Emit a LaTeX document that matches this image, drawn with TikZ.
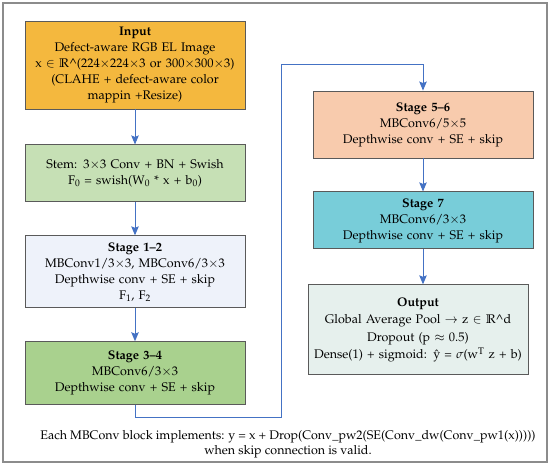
\documentclass[tikz,border=0pt]{standalone}
\usepackage[T1]{fontenc}
\usepackage{mathpazo}
\usepackage{tikz}
\usetikzlibrary{arrows,arrows.meta,positioning}

\definecolor{inputorange}{HTML}{F4B83E}
\definecolor{stemgreen}{HTML}{C6E0B5}
\definecolor{stagepale}{HTML}{EEF2FA}
\definecolor{stagegreen}{HTML}{A9D18E}
\definecolor{stagepeach}{HTML}{F8CBAD}
\definecolor{stageteal}{HTML}{78CDD9}
\definecolor{outmint}{HTML}{E6F0ED}
\definecolor{boxgray}{HTML}{5A5A5A}
\definecolor{framegray}{HTML}{8C8C8C}
\definecolor{linkblue}{HTML}{4472C4}

\begin{document}
\begin{tikzpicture}[
    x=1pt, y=1pt,
    node distance=33pt and 33pt,
    stagebox/.style={draw=boxgray, rectangle, align=center, text width=212pt, minimum width=220pt, inner sep=3pt, line width=0.9pt, font=\fontsize{12.5}{16}\selectfont},
    notetext/.style={align=center, font=\fontsize{12.5}{15}\selectfont},
    myedge/.style={->, >={Stealth[length=9pt,width=7.5pt,inset=1.5pt]}, draw=linkblue, line width=1pt}
]
\useasboundingbox (0,0) rectangle (550,-465);
\draw[framegray, line width=1.2pt] (3,-3) rectangle (547,-462);

% left column
\node[stagebox, fill=inputorange, minimum height=88pt] (input) at (135,-65)
    {\textbf{Input}\\Defect-aware RGB EL Image\\x $\in$ $\mathbb{R}$\textasciicircum(224$\times$224$\times$3 or 300$\times$300$\times$3)\\(CLAHE + defect-aware color\\mappin +Resize)};
\node[stagebox, fill=stemgreen, minimum height=57pt, below=35pt of input] (stem)
    {Stem: 3$\times$3 Conv + BN + Swish\\F\textsubscript{0} = swish(W\textsubscript{0} * x + b\textsubscript{0})};
\node[stagebox, fill=stagepale, minimum height=72pt, below=of stem] (stageA)
    {\textbf{Stage 1--2}\\MBConv1/3$\times$3, MBConv6/3$\times$3\\Depthwise conv + SE + skip\\F\textsubscript{1}, F\textsubscript{2}};
\node[stagebox, fill=stagegreen, minimum height=63pt, below=of stageA] (stageB)
    {\textbf{Stage 3--4}\\MBConv6/3$\times$3\\Depthwise conv + SE + skip};

% right column
\node[stagebox, fill=stagepeach, minimum height=67pt] (stageC) at (423,-124.5)
    {\textbf{Stage 5--6}\\MBConv6/5$\times$5\\Depthwise conv + SE + skip};
\node[stagebox, fill=stageteal, minimum height=57pt, below=of stageC] (stageD)
    {\textbf{Stage 7}\\MBConv6/3$\times$3\\Depthwise conv + SE + skip};
\node[stagebox, fill=outmint, minimum height=90pt, below=35pt of stageD, xshift=-5pt,
      font=\fontsize{12.5}{17.5}\selectfont] (output)
    {\textbf{Output}\\Global Average Pool $\rightarrow$ z $\in$ $\mathbb{R}$\textasciicircum d\\Dropout (p $\approx$ 0.5)\\Dense(1) + sigmoid: \^{y} = $\sigma$(w\textsuperscript{T} z + b)};

\node[notetext] (note) at (288,-444.5)
    {Each MBConv block implements: y = x + Drop(Conv\_pw2(SE(Conv\_dw(Conv\_pw1(x)))))\\when skip connection is valid.};

% connectors
\coordinate (loopbottom) at (281,-418);
\coordinate (looptop) at (281,-65);

\draw[myedge] (input) -- (stem);
\draw[myedge] (stem) -- (stageA);
\draw[myedge] (stageA) -- (stageB);
\draw[myedge] (stageB.south) |- (loopbottom) -- (looptop) -| (stageC.north);
\draw[myedge] (stageC) -- (stageD);
\draw[myedge] (stageD.south) -- (stageD.south |- output.north);
\end{tikzpicture}
\end{document}
